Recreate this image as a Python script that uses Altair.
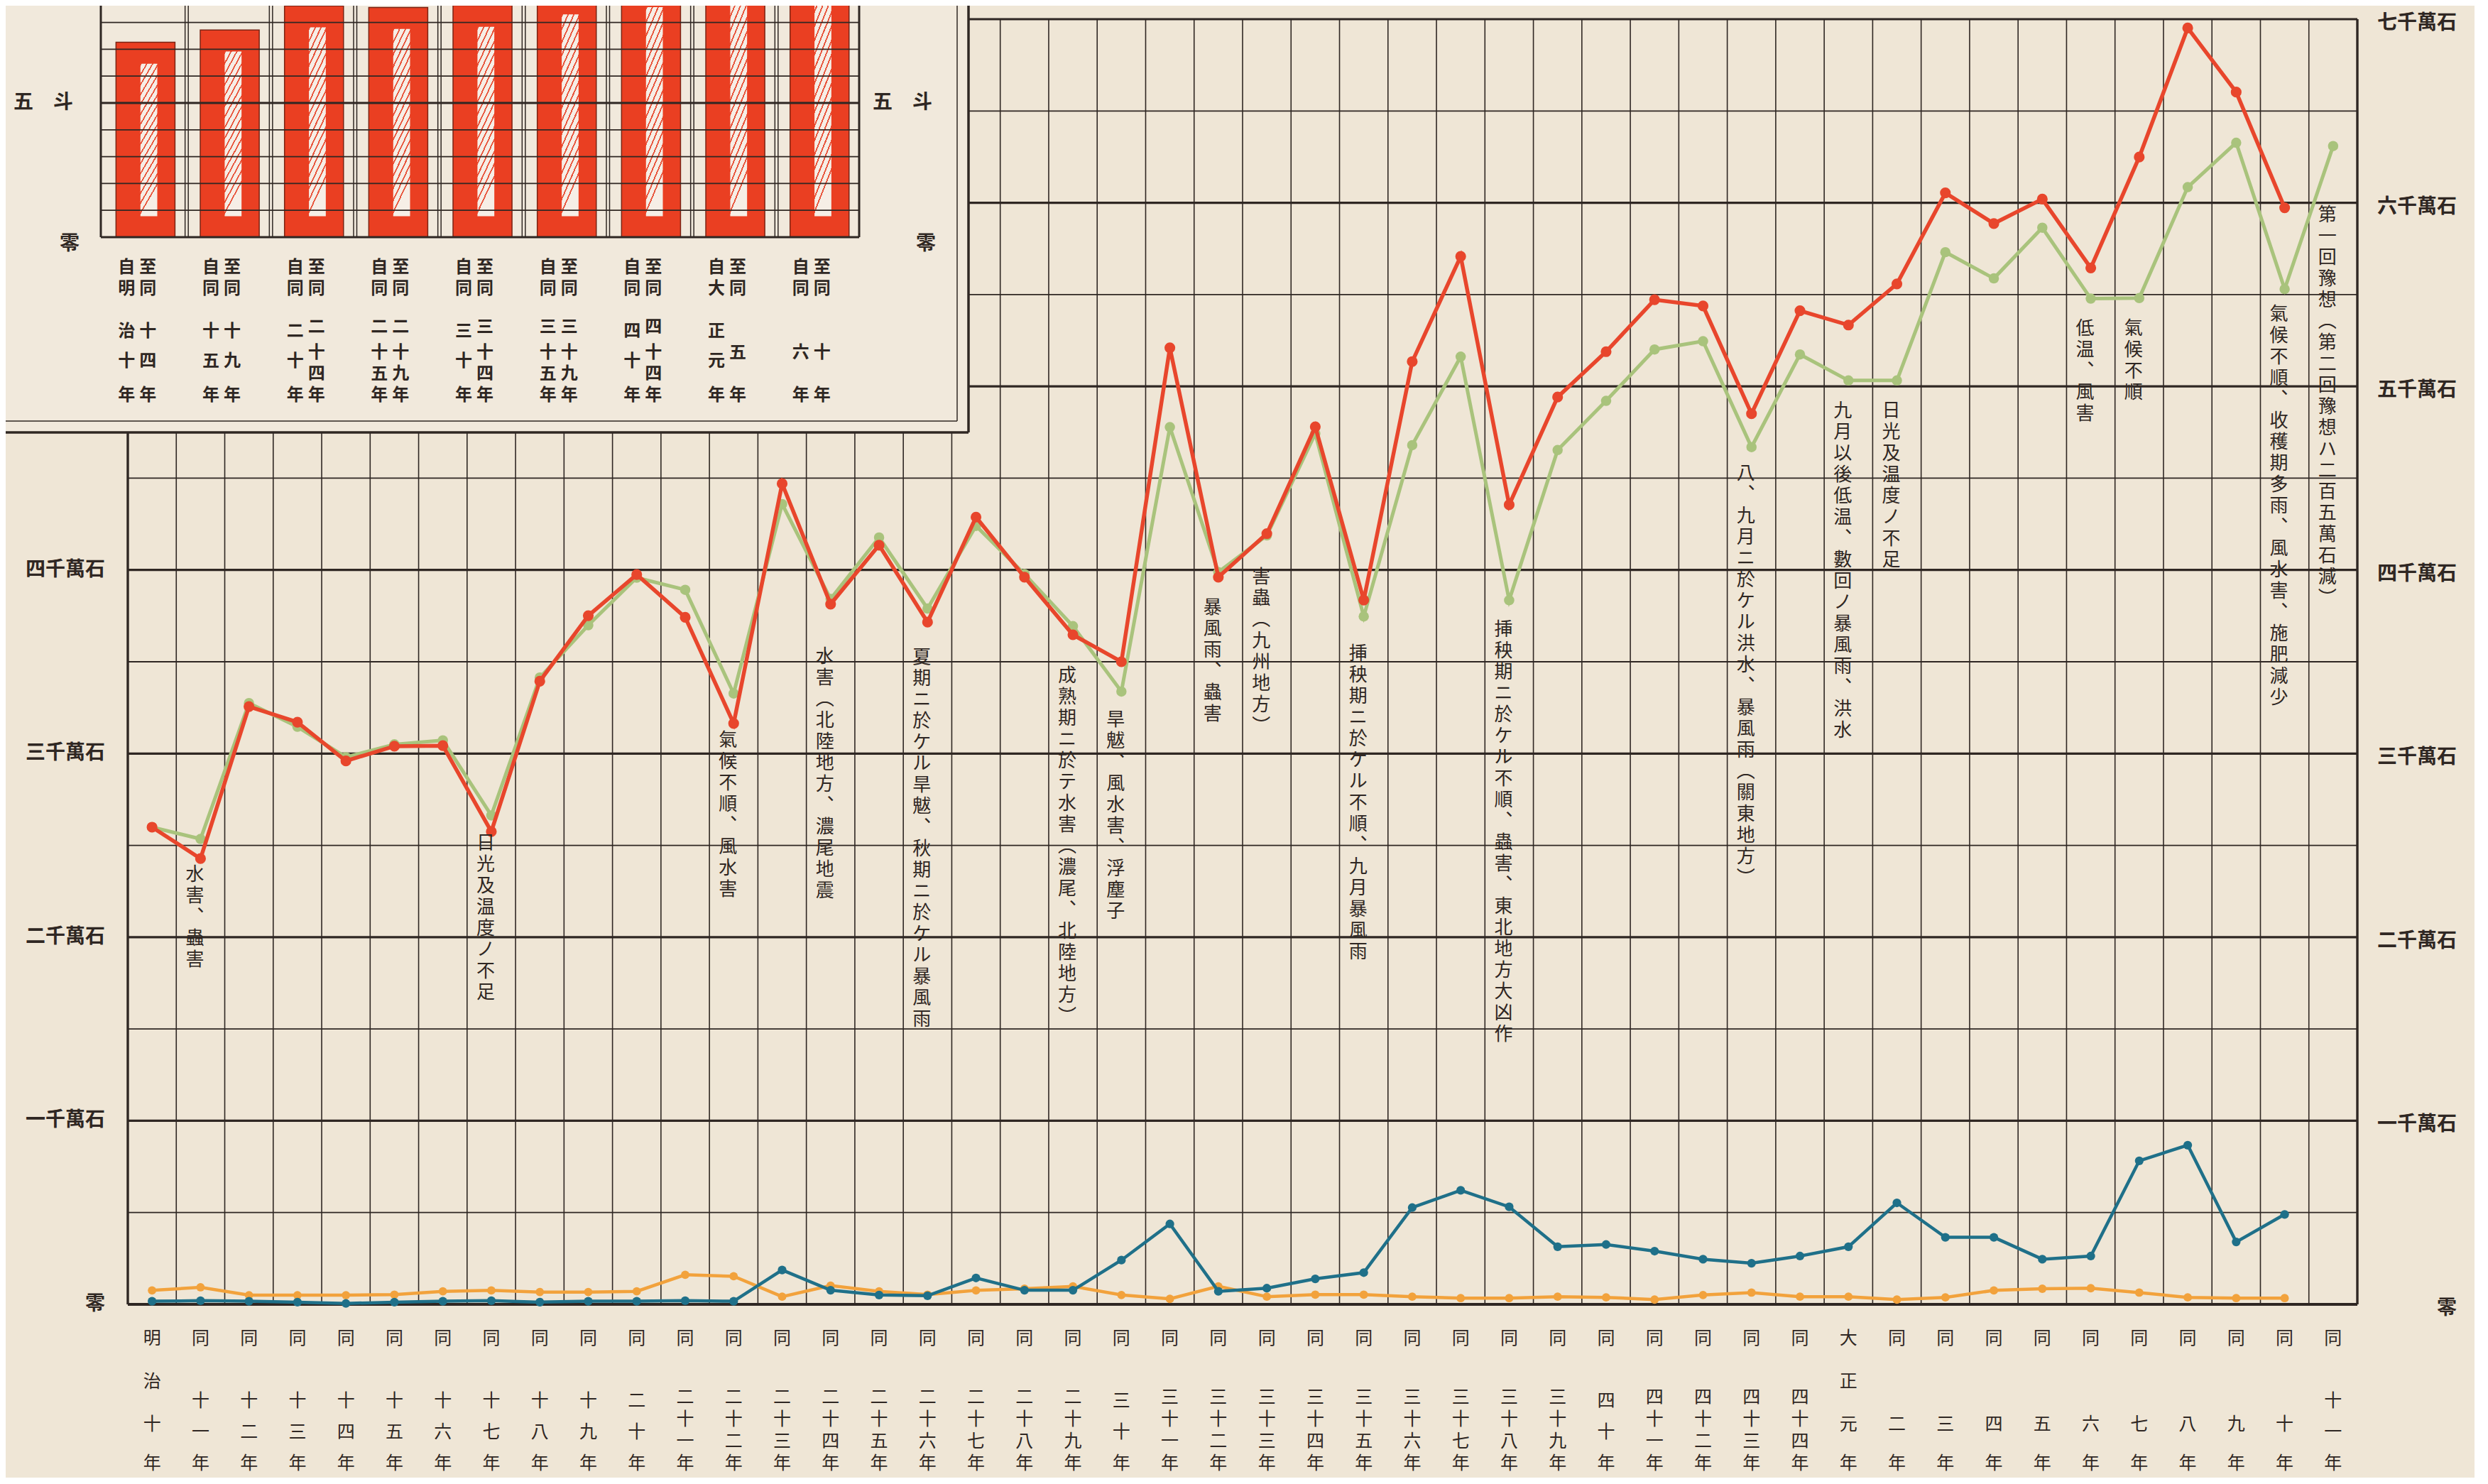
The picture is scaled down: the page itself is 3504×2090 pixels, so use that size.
import altair as alt
import pandas as pd

FONT = "Noto Sans CJK JP"
INK = "#2f2723"
PAPER = "#efe6d6"
PANEL = "#f1e9dc"
RED = "#e8462c"
GREEN = "#a9c37c"
TEAL = "#1f7089"
ORANGE = "#f2a23c"
BAR_RED = "#ea3f22"

# ---------------- data ----------------
year_labels = ["明治十年", "同十一年", "同十二年", "同十三年", "同十四年", "同十五年", "同十六年",
               "同十七年", "同十八年", "同十九年", "同二十年", "同二十一年", "同二十二年", "同二十三年",
               "同二十四年", "同二十五年", "同二十六年", "同二十七年", "同二十八年", "同二十九年",
               "同三十年", "同三十一年", "同三十二年", "同三十三年", "同三十四年", "同三十五年",
               "同三十六年", "同三十七年", "同三十八年", "同三十九年", "同四十年", "同四十一年",
               "同四十二年", "同四十三年", "同四十四年", "大正元年", "同二年", "同三年", "同四年",
               "同五年", "同六年", "同七年", "同八年", "同九年", "同十年", "同十一年"]

red_values = [2599, 2428, 3256, 3171, 2960, 3040, 3043, 2575, 3394, 3751,
              3975, 3742, 3164, 4470, 3814, 4135, 3716, 4288, 3961, 3647,
              3500, 5210, 3961, 4198, 4780, 3836, 5135, 5708, 4355, 4942,
              5189, 5472, 5438, 4851, 5412, 5334, 5558, 6054, 5887, 6020,
              5645, 6249, 6952, 6603, 5973, None]

green_values = [2599, 2535, 3275, 3146, 2980, 3050, 3072, 2663, 3414, 3699,
                3958, 3892, 3327, 4359, 3842, 4177, 3790, 4240, 3978, 3694,
                3338, 4778, 3988, 4188, 4743, 3747, 4680, 5162, 3835, 4653,
                4921, 5201, 5246, 4669, 5174, 5032, 5032, 5731, 5588, 5864,
                5478, 5481, 6085, 6327, 5530, 6309]

teal_values = [17, 20, 17, 12, 5, 12, 17, 20, 12, 17,
               17, 20, 17, 187, 77, 51, 47, 144, 77, 77,
               241, 438, 71, 88, 139, 173, 527, 621, 531, 314,
               326, 290, 246, 224, 263, 314, 553, 365, 365, 246,
               263, 782, 867, 340, 490, None]

orange_values = [76, 93, 50, 50, 50, 53, 71, 76, 67, 67,
                 71, 161, 153, 42, 102, 71, 53, 76, 85, 98,
                 51, 30, 98, 42, 53, 53, 42, 34, 34, 42,
                 38, 26, 51, 64, 42, 42, 26, 38, 76, 85,
                 88, 64, 38, 34, 34, None]

grid_values = list(range(0, 7001, 500))
tick_values = [0, 1000, 2000, 3000, 4000, 5000, 6000, 7000]
tick_labels = ["零", "一千萬石", "二千萬石", "三千萬石", "四千萬石", "五千萬石", "六千萬石", "七千萬石"]

note_years = [1, 7, 12, 14, 16, 19, 20, 22, 23, 25, 28, 33, 35, 36, 40, 41, 44, 45]
note_tops = [2390, 2560, 3120, 3577, 3573, 3472, 3233, 3844, 4010, 3592, 3724, 4575,
             4915, 4915, 5364, 5364, 5440, 5982]
note_texts = ["水害、蟲害", "日光及温度ノ不足", "氣候不順、風水害", "水害（北陸地方、濃尾地震",
              "夏期ニ於ケル旱魃、秋期ニ於ケル暴風雨", "成熟期ニ於テ水害（濃尾、北陸地方）",
              "旱魃、風水害、浮塵子", "暴風雨、蟲害", "害蟲（九州地方）",
              "挿秧期ニ於ケル不順、九月暴風雨", "挿秧期ニ於ケル不順、蟲害、東北地方大凶作",
              "八、九月ニ於ケル洪水、暴風雨（關東地方）", "九月以後低温、數回ノ暴風雨、洪水",
              "日光及温度ノ不足", "低温、風害", "氣候不順",
              "氣候不順、收穫期多雨、風水害、施肥減少", "第一回豫想（第二回豫想ハ二百五萬石減）"]

inset_values = [7.26, 7.72, 8.62, 8.56, 8.64, 9.1, 9.37, 9.6, 9.8]
inset_from = ["自明治十年", "自同十五年", "自同二十年", "自同二十五年", "自同三十年",
              "自同三十五年", "自同四十年", "自大正元年", "自同六年"]
inset_to = ["至同十四年", "至同十九年", "至同二十四年", "至同二十九年", "至同三十四年",
            "至同三十九年", "至同四十四年", "至同五年", "至同十年"]
inset_grid = list(range(0, 10))


# ---------------- vertical text layout helpers ----------------
def x_label_slots(s):
    if s.startswith("明治") or s.startswith("大正"):
        return [0, 11, 22, 32]
    return [0] + {2: [22, 32], 3: [16, 24, 32], 4: [15, 20.7, 26.3, 32]}[len(s) - 1]


def inset_label_slots(s):
    mid = len(s) - 3
    return [0, 5] + {1: [20], 2: [15, 22], 3: [14, 20, 25]}[mid] + [30]


VERT = {"（": "︵", "）": "︶", "、": "︑"}


def vertical_lines(s):
    return "|".join(VERT.get(c, c) for c in s)


# ---------------- main chart ----------------
W, H = 3140, 1810
n = len(year_labels)
xs = alt.Scale(domain=[-0.5, n - 0.5], nice=False, zero=False)
ys = alt.Scale(domain=[0, 7000], nice=False, zero=False)

hgrid_df = pd.DataFrame({"v": grid_values})
h_minor = alt.Chart(hgrid_df).transform_filter("datum.v % 1000 != 0").mark_rule(
    color=INK, strokeWidth=1.8).encode(y=alt.Y("v:Q", scale=ys, axis=None))
h_major = alt.Chart(hgrid_df).transform_filter("datum.v % 1000 == 0 && datum.v > 0").mark_rule(
    color=INK, strokeWidth=3.2).encode(y=alt.Y("v:Q", scale=ys, axis=None))
h_zero = alt.Chart(hgrid_df).transform_filter("datum.v == 0").mark_rule(
    color=INK, strokeWidth=4).encode(y=alt.Y("v:Q", scale=ys, axis=None))

vgrid_df = pd.DataFrame({"b": [i - 0.5 for i in range(n + 1)]})
v_grid = alt.Chart(vgrid_df).mark_rule(color=INK, strokeWidth=1.6).encode(
    x=alt.X("b:Q", scale=xs, axis=None))
v_frame = alt.Chart(vgrid_df).transform_filter(f"datum.b < 0 || datum.b > {n - 1}").mark_rule(
    color=INK, strokeWidth=3.4).encode(x=alt.X("b:Q", scale=xs, axis=None))


def series(vals, color, width, size):
    df = pd.DataFrame({"i": list(range(n)), "v": vals})
    base = alt.Chart(df).encode(x=alt.X("i:Q", scale=xs, axis=None),
                                y=alt.Y("v:Q", scale=ys, axis=None))
    return [base.mark_line(color=color, strokeWidth=width),
            base.mark_circle(color=color, size=size, opacity=1)]


tick_df = pd.DataFrame({"v": tick_values, "t": tick_labels})
# the upper left labels are hidden beneath the inset in the original
ylab_left = alt.Chart(tick_df).transform_filter("datum.v <= 4000").mark_text(
    align="right", baseline="middle", font=FONT, fontSize=28, fontWeight="bold", color=INK
).encode(x=alt.value(-32), y=alt.Y("v:Q", scale=ys, axis=None), text="t:N")
ylab_right = alt.Chart(tick_df).mark_text(
    align="right", baseline="middle", font=FONT, fontSize=28, fontWeight="bold", color=INK, dy=6
).encode(x=alt.value(W + 140), y=alt.Y("v:Q", scale=ys, axis=None), text="t:N")

# x labels: one character per row slot (vertical writing)
xchars = []
for i, s in enumerate(year_labels):
    for c, r in zip(s, x_label_slots(s)):
        xchars.append({"i": i, "c": c, "slot": r})
xchar_df = pd.DataFrame(xchars)
xlab_layers = []
for r in sorted(set(xchar_df["slot"])):
    xlab_layers.append(
        alt.Chart(xchar_df).transform_filter(f"datum.slot == {r}").mark_text(
            align="center", baseline="top", font=FONT, fontSize=25, color=INK, dy=r * 5.5
        ).encode(x=alt.X("i:Q", scale=xs, axis=None), y=alt.value(H + 36), text="c:N"))

note_df = pd.DataFrame({"i": note_years, "top": note_tops,
                        "t": [vertical_lines(s) for s in note_texts]})
notes = alt.Chart(note_df).transform_calculate(lines="split(datum.t, '|')").mark_text(
    align="center", baseline="top", font=FONT, fontSize=26, lineHeight=30, dx=-8, color=INK
).encode(x=alt.X("i:Q", scale=xs, axis=None), y=alt.Y("top:Q", scale=ys, axis=None),
         text="lines:N")

main = alt.layer(
    h_minor, h_major, v_grid, v_frame, h_zero,
    *series(green_values, GREEN, 5, 210),
    *series(red_values, RED, 5.5, 230),
    *series(orange_values, ORANGE, 4.5, 140),
    *series(teal_values, TEAL, 4.5, 150),
    ylab_left, ylab_right, *xlab_layers, notes,
)

# ---------------- inset (per-tan yield, 斗) ----------------
ixs = alt.Scale(domain=[-0.5, 8.5], range=[-38, 1030], nice=False, zero=False)
iys = alt.Scale(domain=[0, 9], range=[307, -33.2], nice=False, zero=False)

one = pd.DataFrame({"a": [0]})
panel = alt.Chart(one).mark_rect(fill=PANEL).encode(
    x=alt.value(-200), x2=alt.value(1184), y=alt.value(-60), y2=alt.value(582))
border_outer_r = alt.Chart(one).mark_rule(color=INK, strokeWidth=3.5).encode(
    x=alt.value(1184), y=alt.value(-60), y2=alt.value(582))
border_outer_b = alt.Chart(one).mark_rule(color=INK, strokeWidth=3.5).encode(
    x=alt.value(-200), x2=alt.value(1184), y=alt.value(582))
border_inner_r = alt.Chart(one).mark_rule(color=INK, strokeWidth=1.5).encode(
    x=alt.value(1168), y=alt.value(-60), y2=alt.value(566))
border_inner_b = alt.Chart(one).mark_rule(color=INK, strokeWidth=1.5).encode(
    x=alt.value(-200), x2=alt.value(1168), y=alt.value(566))

bar_df = pd.DataFrame({"i": list(range(len(inset_values))), "v": inset_values})
bars = alt.Chart(bar_df).transform_calculate(
    lo="datum.i - 0.32", hi="datum.i + 0.38"
).mark_rect(color=BAR_RED, stroke="#7a2414", strokeWidth=1.5).encode(
    x=alt.X("lo:Q", scale=ixs, axis=None), x2="hi:Q",
    y=alt.Y("v:Q", scale=iys, axis=None), y2=alt.Y2Datum(0))

stops = []
K = 16
for k in range(K):
    a, b = k / K, (k + 0.25) / K
    stops += [alt.GradientStop(color="#e8553c", offset=a),
              alt.GradientStop(color="#e8553c", offset=b),
              alt.GradientStop(color="#f6eee6", offset=b),
              alt.GradientStop(color="#f6eee6", offset=(k + 1) / K)]
hatch = alt.LinearGradient(gradient="linear", stops=stops, x1=0, y1=0, x2=0.19, y2=1)
inner = alt.Chart(bar_df).transform_calculate(
    lo="datum.i - 0.03", hi="datum.i + 0.17", top="datum.v - 0.8"
).mark_rect(fill=hatch).encode(
    x=alt.X("lo:Q", scale=ixs, axis=None), x2="hi:Q",
    y=alt.Y("top:Q", scale=iys, axis=None), y2=alt.Y2Datum(0.78))

ig_df = pd.DataFrame({"v": inset_grid, "x0": [-0.5] * len(inset_grid), "x1": [8.5] * len(inset_grid)})
ig_h = alt.Chart(ig_df).transform_filter("datum.v != 5 && datum.v != 0").mark_rule(
    color=INK, strokeWidth=1.8).encode(
    y=alt.Y("v:Q", scale=iys, axis=None), x=alt.X("x0:Q", scale=ixs, axis=None), x2="x1:Q")
ig_h_thick = alt.Chart(ig_df).transform_filter("datum.v == 5 || datum.v == 0").mark_rule(
    color=INK, strokeWidth=3.2).encode(
    y=alt.Y("v:Q", scale=iys, axis=None), x=alt.X("x0:Q", scale=ixs, axis=None), x2="x1:Q")

iv_df = pd.DataFrame({"b": [i - 0.5 for i in range(len(inset_values) + 1)]})
ig_v = alt.Chart(iv_df).mark_rule(color=INK, strokeWidth=1.5).encode(
    x=alt.X("b:Q", scale=ixs, axis=None),
    y=alt.YDatum(0, scale=iys, axis=None), y2=alt.Y2Datum(9.8))
ig_v2 = alt.Chart(iv_df).transform_filter("datum.b > 0 && datum.b < 8").mark_rule(
    color=INK, strokeWidth=1.5, xOffset=4.5).encode(
    x=alt.X("b:Q", scale=ixs, axis=None),
    y=alt.YDatum(0, scale=iys, axis=None), y2=alt.Y2Datum(9.8))
ig_v_edge = alt.Chart(iv_df).transform_filter("datum.b < 0 || datum.b > 8").mark_rule(
    color=INK, strokeWidth=3).encode(
    x=alt.X("b:Q", scale=ixs, axis=None),
    y=alt.YDatum(0, scale=iys, axis=None), y2=alt.Y2Datum(9.8))

unit_df = pd.DataFrame({"v": [5, 0], "t": ["五　斗", "零"]})
unit_left5 = alt.Chart(unit_df).transform_filter("datum.v == 5").mark_text(
    align="center", baseline="middle", font=FONT, fontSize=28, fontWeight="bold", color=INK
).encode(x=alt.value(-119), y=alt.Y("v:Q", scale=iys, axis=None), text="t:N")
unit_right5 = alt.Chart(unit_df).transform_filter("datum.v == 5").mark_text(
    align="center", baseline="middle", font=FONT, fontSize=28, fontWeight="bold", color=INK
).encode(x=alt.value(1091), y=alt.Y("v:Q", scale=iys, axis=None), text="t:N")
unit_left0 = alt.Chart(unit_df).transform_filter("datum.v == 0").mark_text(
    align="center", baseline="middle", font=FONT, fontSize=28, fontWeight="bold", color=INK, dy=10
).encode(x=alt.value(-82), y=alt.Y("v:Q", scale=iys, axis=None), text="t:N")
unit_right0 = alt.Chart(unit_df).transform_filter("datum.v == 0").mark_text(
    align="center", baseline="middle", font=FONT, fontSize=28, fontWeight="bold", color=INK, dy=10
).encode(x=alt.value(1124), y=alt.Y("v:Q", scale=iys, axis=None), text="t:N")

# inset period labels: two vertical columns (自… / 至…) per bar
lchars = []
for i, (f, t) in enumerate(zip(inset_from, inset_to)):
    for col, s in ((0, f), (1, t)):
        for c, r in zip(s, inset_label_slots(s)):
            lchars.append({"i": i, "c": c, "slot": r, "col": col})
lchar_df = pd.DataFrame(lchars)
lab_layers = []
for col, dx in ((0, -23), (1, 7)):
    for r in sorted(set(lchar_df[lchar_df["col"] == col]["slot"])):
        lab_layers.append(
            alt.Chart(lchar_df).transform_filter(
                f"datum.col == {col} && datum.slot == {r}"
            ).mark_text(
                align="center", baseline="top", font=FONT, fontSize=24, fontWeight="bold",
                color=INK, dx=dx, dy=r * 6
            ).encode(x=alt.X("i:Q", scale=ixs, axis=None), y=alt.value(338), text="c:N"))

inset = alt.layer(
    panel, border_inner_r, border_inner_b, border_outer_r, border_outer_b,
    bars, inner, ig_v, ig_v2, ig_v_edge, ig_h, ig_h_thick,
    unit_left5, unit_right5, unit_left0, unit_right0, *lab_layers,
)

chart = alt.layer(main, inset).resolve_scale(
    x="independent", y="independent"
).properties(
    width=W, height=H,
    padding={"left": 172, "top": 19, "right": 165, "bottom": 244},
    autosize=alt.AutoSizeParams(type="none"),
    background=PAPER,
).configure_view(stroke=None)

chart.save("out.html", embed_options={"renderer": "svg", "actions": False})
